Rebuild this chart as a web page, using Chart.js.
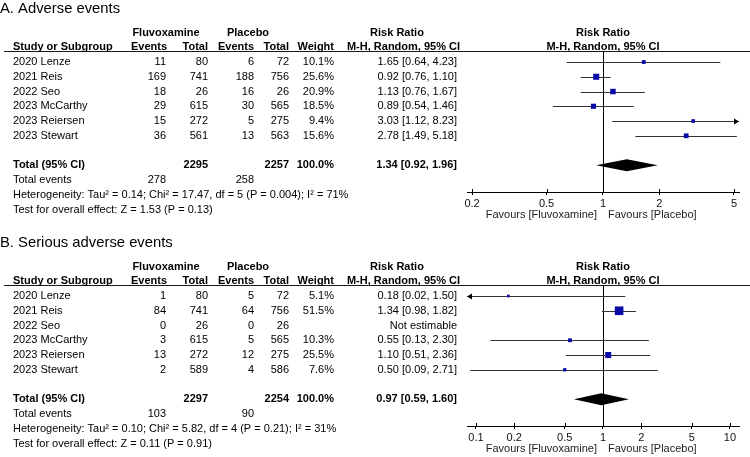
<!DOCTYPE html>
<html><head><meta charset="utf-8">
<script src="https://cdn.jsdelivr.net/npm/chart.js@4.4.1/dist/chart.umd.min.js"></script>
<style>
html,body{margin:0;padding:0;background:#fff;}
#wrap{position:relative;width:750px;height:457px;overflow:hidden;background:#fff;}
canvas{position:absolute;left:0;}
#cA{top:0;} #cB{top:234px;}
</style></head><body>
<div id="wrap"><canvas id="cA" width="750" height="223"></canvas><canvas id="cB" width="750" height="223"></canvas></div>
<script>
// ---------- Data ----------
const studies = ['2020 Lenze','2021 Reis','2022 Seo','2023 McCarthy','2023 Reiersen','2023 Stewart'];

// A. Adverse events
const fluvEventsA = [11,169,18,29,15,36];
const fluvTotalA  = [80,741,26,615,272,561];
const placEventsA = [6,188,16,30,5,13];
const placTotalA  = [72,756,26,565,275,563];
const weightA     = [10.1,25.6,20.9,18.5,9.4,15.6];
const rrA         = [1.65,0.92,1.13,0.89,3.03,2.78];
const loA         = [0.64,0.76,0.76,0.54,1.12,1.49];
const hiA         = [4.23,1.10,1.67,1.46,8.23,5.18];
const totalsA     = {fluvTotal:2295, placTotal:2257, fluvEvents:278, placEvents:258, rr:1.34, lo:0.92, hi:1.96};
const hetA  = 'Heterogeneity: Tau\u00b2 = 0.14; Chi\u00b2 = 17.47, df = 5 (P = 0.004); I\u00b2 = 71%';
const testA = 'Test for overall effect: Z = 1.53 (P = 0.13)';
const ticksA = [0.2,0.5,1,2,5];

// B. Serious adverse events
const fluvEventsB = [1,84,0,3,13,2];
const fluvTotalB  = [80,741,26,615,272,589];
const placEventsB = [5,64,0,5,12,4];
const placTotalB  = [72,756,26,565,275,586];
const weightB     = [5.1,51.5,null,10.3,25.5,7.6];
const rrB         = [0.18,1.34,null,0.55,1.10,0.50];
const loB         = [0.02,0.98,null,0.13,0.51,0.09];
const hiB         = [1.50,1.82,null,2.30,2.36,2.71];
const totalsB     = {fluvTotal:2297, placTotal:2254, fluvEvents:103, placEvents:90, rr:0.97, lo:0.59, hi:1.60};
const hetB  = 'Heterogeneity: Tau\u00b2 = 0.10; Chi\u00b2 = 5.82, df = 4 (P = 0.21); I\u00b2 = 31%';
const testB = 'Test for overall effect: Z = 0.11 (P = 0.91)';
const ticksB = [0.1,0.2,0.5,1,2,5,10];

// ---------- Rendering ----------
const FONT = "'Liberation Sans', Arial, Helvetica, sans-serif";
Chart.defaults.font.family = FONT;
Chart.defaults.font.size = 11;
Chart.defaults.color = '#111';

function fmtRR(r,l,h){ return r.toFixed(2)+' ['+l.toFixed(2)+', '+h.toFixed(2)+']'; }

function makePanel(canvasId, p){
  const tablePlugin = {
    id: 'forestTable',
    beforeDatasetsDraw(chart){
      const ctx = chart.ctx, xs = chart.scales.x, ys = chart.scales.y, a = chart.chartArea;
      ctx.save();
      // header underline
      ctx.strokeStyle = '#1a1a1a'; ctx.lineWidth = 1.2;
      ctx.beginPath(); ctx.moveTo(4, Math.round(a.top)+0.5); ctx.lineTo(750, Math.round(a.top)+0.5); ctx.stroke();
      ctx.lineWidth = 1;
      // line of no effect
      const x1 = Math.round(xs.getPixelForValue(1))+0.5;
      ctx.strokeStyle = '#000';
      ctx.beginPath(); ctx.moveTo(x1, a.top); ctx.lineTo(x1, a.bottom); ctx.stroke();
      // upward half of ticks
      xs.ticks.forEach(t => {
        const px = Math.round(xs.getPixelForValue(t.value))+0.5;
        ctx.beginPath(); ctx.moveTo(px, a.bottom-3); ctx.lineTo(px, a.bottom); ctx.stroke();
      });
      // CI lines
      ctx.strokeStyle = '#333';
      for (let i=0;i<p.rr.length;i++){
        if (p.rr[i]==null) continue;
        const y = Math.round(ys.getPixelForValue(i))+0.5;
        const xl = Math.max(a.left, xs.getPixelForValue(p.lo[i]));
        const xr = Math.min(a.right, xs.getPixelForValue(p.hi[i]));
        ctx.beginPath(); ctx.moveTo(xl,y); ctx.lineTo(xr,y); ctx.stroke();
        ctx.fillStyle = '#000';
        if (p.lo[i] < xs.min){
          ctx.beginPath(); ctx.moveTo(a.left,y); ctx.lineTo(a.left+5,y-3); ctx.lineTo(a.left+5,y+3); ctx.closePath(); ctx.fill();
        }
        if (p.hi[i] > xs.max){
          ctx.beginPath(); ctx.moveTo(a.right,y); ctx.lineTo(a.right-5,y-3); ctx.lineTo(a.right-5,y+3); ctx.closePath(); ctx.fill();
        }
      }
      // diamond
      const yd = ys.getPixelForValue(7);
      const t = p.totals;
      ctx.fillStyle = '#000';
      ctx.beginPath();
      ctx.moveTo(xs.getPixelForValue(t.lo), yd);
      ctx.lineTo(xs.getPixelForValue(t.rr), yd-6);
      ctx.lineTo(xs.getPixelForValue(t.hi), yd);
      ctx.lineTo(xs.getPixelForValue(t.rr), yd+6);
      ctx.closePath(); ctx.fill();
      ctx.restore();
    },
    afterDraw(chart){
      const ctx = chart.ctx, xs = chart.scales.x, ys = chart.scales.y, a = chart.chartArea;
      const Y = v => ys.getPixelForValue(v);
      const B = 'bold 11px '+FONT, N = '11px '+FONT;
      ctx.save();
      ctx.textBaseline = 'middle';
      ctx.fillStyle = '#000';
      const txt = (s,x,y,align,font) => { ctx.font = font; ctx.textAlign = align; ctx.fillText(s,x,y); };
      // title
      txt(p.title, 0, Y(-3.62), 'left', '14.8px '+FONT);
      // header row 1
      txt('Fluvoxamine', 166, Y(-2), 'center', B);
      txt('Placebo', 248, Y(-2), 'center', B);
      txt('Risk Ratio', 397, Y(-2), 'center', B);
      txt('Risk Ratio', xs.getPixelForValue(1), Y(-2), 'center', B);
      // header row 2
      txt('Study or Subgroup', 13, Y(-1), 'left', B);
      txt('Events', 167, Y(-1), 'right', B);
      txt('Total', 208, Y(-1), 'right', B);
      txt('Events', 254, Y(-1), 'right', B);
      txt('Total', 289, Y(-1), 'right', B);
      txt('Weight', 334, Y(-1), 'right', B);
      txt('M-H, Random, 95% CI', 460, Y(-1), 'right', B);
      txt('M-H, Random, 95% CI', xs.getPixelForValue(1), Y(-1), 'center', B);
      // study rows
      for (let i=0;i<studies.length;i++){
        const y = Y(i);
        txt(studies[i], 13, y, 'left', N);
        txt(String(p.fe[i]), 166, y, 'right', N);
        txt(String(p.ft[i]), 208, y, 'right', N);
        txt(String(p.pe[i]), 254, y, 'right', N);
        txt(String(p.pt[i]), 289, y, 'right', N);
        if (p.w[i]!=null) txt(p.w[i].toFixed(1)+'%', 334, y, 'right', N);
        txt(p.rr[i]!=null ? fmtRR(p.rr[i],p.lo[i],p.hi[i]) : 'Not estimable', 457, y, 'right', N);
      }
      // total
      const t = p.totals;
      txt('Total (95% CI)', 13, Y(7), 'left', B);
      txt(String(t.fluvTotal), 208, Y(7), 'right', B);
      txt(String(t.placTotal), 289, Y(7), 'right', B);
      txt('100.0%', 334, Y(7), 'right', B);
      txt(fmtRR(t.rr,t.lo,t.hi), 457, Y(7), 'right', B);
      txt('Total events', 13, Y(8), 'left', N);
      txt(String(t.fluvEvents), 166, Y(8), 'right', N);
      txt(String(t.placEvents), 254, Y(8), 'right', N);
      txt(p.het, 13, Y(9), 'left', N);
      txt(p.test, 13, Y(10), 'left', N);
      // favours
      ctx.fillStyle = '#222';
      const x1 = xs.getPixelForValue(1);
      txt('Favours [Fluvoxamine]', x1-6, a.bottom+23, 'right', N);
      txt('Favours [Placebo]', x1+5, a.bottom+23, 'left', N);
      ctx.restore();
    }
  };

  const pts = [], rad = [];
  for (let i=0;i<p.rr.length;i++){
    if (p.rr[i]==null) continue;
    pts.push({x:p.rr[i], y:i});
    rad.push(1.2*Math.sqrt(p.w[i])/1.4142);
  }

  return new Chart(document.getElementById(canvasId), {
    type: 'scatter',
    data: { datasets: [{
      data: pts,
      pointStyle: 'rect',
      pointRadius: rad,
      pointHoverRadius: rad,
      pointBackgroundColor: '#0a0aa6',
      pointBorderWidth: 0,
      borderWidth: 0
    }]},
    options: {
      responsive: false,
      animation: false,
      events: [],
      layout: { padding: { left: 467, right: 11, top: 51, bottom: 3 } },
      plugins: { legend: {display:false}, tooltip: {enabled:false} },
      scales: {
        x: {
          type: 'logarithmic',
          min: p.xmin, max: p.xmax,
          afterBuildTicks: s => { s.ticks = p.ticks.map(v => ({value:v})); },
          afterFit: s => { s.height = 28; },
          border: { display: true, color: '#000', width: 1 },
          grid: { drawOnChartArea: false, drawTicks: true, tickLength: 3, color: '#000' },
          ticks: { autoSkip: false, maxRotation: 0, padding: 2, color: '#111',
                   font: { size: 11 }, callback: v => String(v) }
        },
        y: { type: 'linear', display: false, reverse: true, min: -0.746, max: 8.81 }
      }
    },
    plugins: [tablePlugin]
  });
}

makePanel('cA', { title:'A. Adverse events', fe:fluvEventsA, ft:fluvTotalA, pe:placEventsA, pt:placTotalA,
  w:weightA, rr:rrA, lo:loA, hi:hiA, totals:totalsA, het:hetA, test:testA, ticks:ticksA, xmin:0.188, xmax:5.32 });
makePanel('cB', { title:'B. Serious adverse events', fe:fluvEventsB, ft:fluvTotalB, pe:placEventsB, pt:placTotalB,
  w:weightB, rr:rrB, lo:loB, hi:hiB, totals:totalsB, het:hetB, test:testB, ticks:ticksB, xmin:0.085, xmax:11.78 });
</script>
</body></html>
